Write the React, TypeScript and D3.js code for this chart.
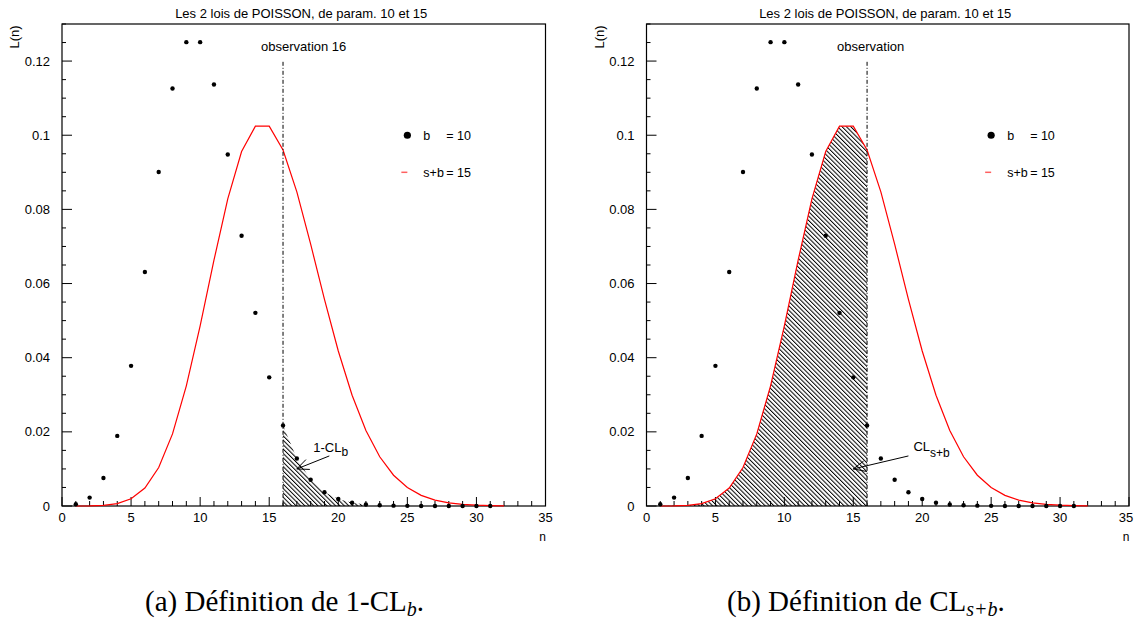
import React from "react";
import * as d3 from "d3";

// ---- data ----
const bN = [1,2,3,4,5,6,7,8,9,10,11,12,13,14,15,16,17,18,19,20,21,22,23,24,25,26,27,28,29,30,31];
const bVals = [0.000454,0.00227,0.00757,0.0189,0.0378,0.0631,0.0901,0.1126,0.1251,0.1251,0.1137,0.0948,0.0729,0.0521,0.0347,0.0217,0.0128,0.0071,0.0037,0.0019,0.0009,0.0004,0.0002,0.0001,0.00004,0.00002,0.00001,0,0,0,0];
const sbN = [1,2,3,4,5,6,7,8,9,10,11,12,13,14,15,16,17,18,19,20,21,22,23,24,25,26,27,28,29,30,31,32];
const sbVals = [0.0000046,0.000034,0.00017,0.00065,0.00194,0.00484,0.01037,0.01944,0.03241,0.04861,0.06629,0.08286,0.09561,0.10244,0.10244,0.09603,0.08474,0.07061,0.05575,0.04181,0.02986,0.02036,0.01328,0.0083,0.00498,0.00287,0.0016,0.00086,0.00044,0.00022,0.0001,0.00005];
const xMajorTicks = [0,5,10,15,20,25,30,35];
const yMajorTicks = [0,0.02,0.04,0.06,0.08,0.1,0.12];
const yTickLabels = ["0","0.02","0.04","0.06","0.08","0.1","0.12"];
const observation = 16;
const title = "Les 2 lois de POISSON, de param. 10 et 15";

const SANS = "'Liberation Sans', Arial, sans-serif";
const SERIF = "'Liberation Serif', 'Times New Roman', serif";

type Pt = { n: number; v: number };
const bData: Pt[] = bN.map((n, i) => ({ n, v: bVals[i] }));
const sbData: Pt[] = sbN.map((n, i) => ({ n, v: sbVals[i] }));

function Arrow({ tip, tail }: { tip: [number, number]; tail: [number, number] }) {
  const ang = Math.atan2(tail[1] - tip[1], tail[0] - tip[0]);
  const L = 13, a = (24 * Math.PI) / 180;
  const b1: [number, number] = [tip[0] + L * Math.cos(ang + a), tip[1] + L * Math.sin(ang + a)];
  const b2: [number, number] = [tip[0] + L * Math.cos(ang - a), tip[1] + L * Math.sin(ang - a)];
  return (
    <g stroke="#000" strokeWidth={1} fill="none">
      <line x1={tail[0]} y1={tail[1]} x2={tip[0]} y2={tip[1]} />
      <line x1={tip[0]} y1={tip[1]} x2={b1[0]} y2={b1[1]} />
      <line x1={tip[0]} y1={tip[1]} x2={b2[0]} y2={b2[1]} />
    </g>
  );
}

function Panel({ x0, x1, variant }: { x0: number; x1: number; variant: "a" | "b" }) {
  const x = d3.scaleLinear().domain([0, 35]).range([x0, x1]);
  const y = d3.scaleLinear().domain([0, 0.13]).range([506, 24]);
  const line = d3.line<Pt>().x((d) => x(d.n)).y((d) => y(d.v));
  const area = d3.area<Pt>().x((d) => x(d.n)).y0(y(0)).y1((d) => y(d.v));
  const hatchData = variant === "a" ? bData.filter((d) => d.n >= observation && d.n <= 22) : sbData.filter((d) => d.n <= observation);
  const pid = "hatch-" + variant;
  const minorX = d3.range(0, 36, 1);
  const minorY = d3.range(0, 0.1301, 0.005);
  const xo = x(observation);
  const tip: [number, number] = variant === "a" ? [x(17), y(0.01)] : [x(15), y(0.01)];
  const tail: [number, number] = variant === "a" ? [x(19.35), y(0.0135)] : [x(19), y(0.0135)];
  const cx = (x0 + x1) / 2 - 2.5;
  const lx = x(25);
  return (
    <g>
      <defs>
        <pattern id={pid} patternUnits="userSpaceOnUse" width={3.1} height={10} patternTransform="rotate(-45)">
          <line x1={0.5} y1={0} x2={0.5} y2={10} stroke="#000" strokeWidth={1} />
        </pattern>
      </defs>
      <text x={cx} y={18} fontFamily={SANS} fontSize={13} textAnchor="middle">{title}</text>
      <text transform={`translate(${x0 - 43},37) rotate(-90)`} fontFamily={SANS} fontSize={13} textAnchor="middle">L(n)</text>
      {/* hatch */}
      <path d={area(hatchData) || ""} fill={`url(#${pid})`} stroke="none" />
      {/* frame */}
      <rect x={x0} y={24} width={x1 - x0} height={482} fill="none" stroke="#000" strokeWidth={1.2} />
      {/* x ticks */}
      {minorX.map((t) => (
        <line key={"mx" + t} x1={x(t)} x2={x(t)} y1={506} y2={t % 5 === 0 ? 497 : 501} stroke="#000" strokeWidth={1} />
      ))}
      {xMajorTicks.map((t) => (
        <text key={"xl" + t} x={Math.min(x(t), 1133 - 7)} y={522} fontFamily={SANS} fontSize={13} textAnchor="middle">{t}</text>
      ))}
      <text x={x(35) - 3} y={541} fontFamily={SANS} fontSize={12} textAnchor="middle">n</text>
      {/* y ticks */}
      {minorY.map((t, i) => (
        <line key={"my" + i} x1={x0} x2={x0 + (i % 4 === 0 ? 10 : 4)} y1={y(t)} y2={y(t)} stroke="#000" strokeWidth={1} />
      ))}
      {yMajorTicks.map((t, i) => (
        <text key={"yl" + i} x={x0 - 12} y={y(t) + 4.5} fontFamily={SANS} fontSize={13} textAnchor="end">{yTickLabels[i]}</text>
      ))}
      {/* s+b curve */}
      <path d={line(sbData) || ""} fill="none" stroke="#ff0000" strokeWidth={1.2} />
      {/* b points */}
      {bData.map((d) => (
        <circle key={"b" + d.n} cx={x(d.n)} cy={y(d.v)} r={2.2} fill="#000" />
      ))}
      {/* observation line */}
      <line x1={xo} x2={xo} y1={y(0.1198)} y2={506} stroke="#000" strokeWidth={1} strokeDasharray="4,2,1,2" />
      <text x={variant === "a" ? xo - 22 : xo - 30} y={50.5} fontFamily={SANS} fontSize={13}>
        {variant === "a" ? "observation 16" : "observation"}
      </text>
      {/* legend */}
      <circle cx={lx} cy={y(0.1)} r={3.6} fill="#000" />
      <text x={lx + 16} y={y(0.1) + 5} fontFamily={SANS} fontSize={12.5}>b</text>
      <text x={lx + 39} y={y(0.1) + 5} fontFamily={SANS} fontSize={12.5}>= 10</text>
      <line x1={lx - 6} x2={lx} y1={y(0.09)} y2={y(0.09)} stroke="#ff6060" strokeWidth={1.5} />
      <text x={lx + 16} y={y(0.09) + 5} fontFamily={SANS} fontSize={12.5}>s+b</text>
      <text x={lx + 39} y={y(0.09) + 5} fontFamily={SANS} fontSize={12.5}>= 15</text>
      {/* annotation */}
      <Arrow tip={tip} tail={tail} />
      {variant === "a" ? (
        <text x={tail[0] - 16} y={tail[1] - 4} fontFamily={SANS} fontSize={13}>
          1-CL<tspan dy={4} fontSize={12}>b</tspan>
        </text>
      ) : (
        <text x={tail[0] + 5} y={tail[1] - 5} fontFamily={SANS} fontSize={13}>
          CL<tspan dy={6} fontSize={12}>s+b</tspan>
        </text>
      )}
    </g>
  );
}

export default function App() {
  return (
    <svg width={1134} height={620} style={{ position: "absolute", left: 0, top: 0, background: "#fff" }}>
      <rect x={0} y={0} width={1134} height={620} fill="#fff" />
      <Panel x0={62} x1={545.5} variant="a" />
      <Panel x0={646.5} x1={1129} variant="b" />
      <text x={145} y={611} fontFamily={SERIF} fontSize={29}>
        (a) Définition de 1-CL<tspan dy={5} fontSize={20} fontStyle="italic">b</tspan><tspan dy={-5}>.</tspan>
      </text>
      <text x={727} y={611} fontFamily={SERIF} fontSize={29}>
        (b) Définition de CL<tspan dy={5} fontSize={20} fontStyle="italic">s+b</tspan><tspan dy={-5}>.</tspan>
      </text>
    </svg>
  );
}
